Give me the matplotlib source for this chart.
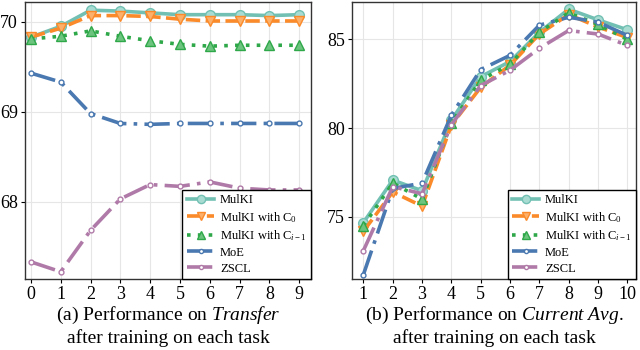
import matplotlib
matplotlib.use("Agg")
import matplotlib.pyplot as plt

plt.rcParams['font.family'] = 'Liberation Serif'
plt.rcParams['mathtext.fontset'] = 'custom'
plt.rcParams['mathtext.rm'] = 'Liberation Serif'
plt.rcParams['mathtext.it'] = 'Liberation Serif:italic'

# (a) Transfer
tasks_a = [0, 1, 2, 3, 4, 5, 6, 7, 8, 9]
mulki_a = [69.83, 69.95, 70.13, 70.12, 70.10, 70.08, 70.08, 70.08, 70.07, 70.08]
c0_a = [69.83, 69.93, 70.07, 70.07, 70.06, 70.03, 70.01, 70.01, 70.01, 70.01]
ci1_a = [69.81, 69.84, 69.90, 69.84, 69.79, 69.75, 69.73, 69.74, 69.74, 69.74]
moe_a = [69.43, 69.33, 68.98, 68.87, 68.86, 68.87, 68.87, 68.87, 68.87, 68.87]
zscl_a = [67.33, 67.22, 67.68, 68.03, 68.19, 68.17, 68.22, 68.15, 68.13, 68.13]

# (b) Current Avg.
tasks_b = [1, 2, 3, 4, 5, 6, 7, 8, 9, 10]
mulki_b = [74.68, 77.07, 76.47, 80.45, 82.9, 83.75, 85.4, 86.7, 86.1, 85.54]
c0_b = [74.19, 76.4, 75.6, 80.17, 82.3, 83.55, 85.3, 86.4, 85.7, 85.1]
ci1_b = [74.5, 76.9, 76.0, 80.3, 82.7, 83.6, 85.4, 86.5, 85.84, 85.0]
moe_b = [71.75, 76.6, 76.9, 80.73, 83.3, 84.1, 85.8, 86.25, 85.97, 85.22]
zscl_b = [73.1, 76.7, 76.3, 80.2, 82.4, 83.26, 84.5, 85.5, 85.3, 84.66]

labels = ['MulKI', 'MulKI with C$_0$', 'MulKI with C$_{i-1}$', 'MoE', 'ZSCL']
colors = ['#72c0b3', '#fa8a2a', '#2fa84a', '#4a78b0', '#b07aa8']
styles = [
    dict(linestyle='-', marker='o', markersize=7, markerfacecolor='#a8dcd2', lw=2.6),
    dict(linestyle=(0, (4, 1.5)), marker='v', markersize=7, markerfacecolor='#fcb06a', lw=2.6),
    dict(linestyle=(0, (1, 2)), marker='^', markersize=7, markerfacecolor='#6cc47e', lw=2.6),
    dict(linestyle=(0, (7, 2, 1, 2)), marker='o', markersize=3.5, markerfacecolor='white', lw=2.6),
    dict(linestyle=(0, (7, 2, 1, 2)), marker='o', markersize=3.5, markerfacecolor='white', lw=2.6),
]

fig = plt.figure(figsize=(6.4, 3.5), dpi=100)
ax1 = fig.add_axes([0.039, 0.203, 0.447, 0.791])
ax2 = fig.add_axes([0.55, 0.203, 0.444, 0.791])

series_a = [mulki_a, c0_a, ci1_a, moe_a, zscl_a]
series_b = [mulki_b, c0_b, ci1_b, moe_b, zscl_b]

for ax, xs, series in [(ax1, tasks_a, series_a), (ax2, tasks_b, series_b)]:
    for ys, lab, col, st in zip(series, labels, colors, styles):
        ax.plot(xs, ys, color=col, label=lab, markeredgecolor=col, **st)
    ax.set_xticks(xs)
    ax.grid(True, color='#e6e6e6', lw=0.8)
    ax.set_axisbelow(True)
    for sp in ax.spines.values():
        sp.set_color('#333333')
        sp.set_linewidth(1.0)
    ax.tick_params(labelsize=13, length=3, width=0.8, pad=2)
    ax.legend(loc='lower right', fontsize=9, frameon=True, fancybox=False,
              edgecolor='black', framealpha=1, borderpad=0.35, labelspacing=0.3,
              handlelength=2.2, handletextpad=0.45, borderaxespad=0, markerscale=0.85)

ax1.set_xlim(-0.2, 9.4)
ax1.set_ylim(67.14, 70.22)
ax1.set_yticks([68, 69, 70])
ax2.set_xlim(0.61, 10.3)
ax2.set_ylim(71.5, 87.1)
ax2.set_yticks([75, 80, 85])

fig.text(0.263, 0.098, '(a) Performance on $\\it{Transfer}$', ha='center', va='center', fontsize=14)
fig.text(0.263, 0.035, 'after training on each task', ha='center', va='center', fontsize=14)
fig.text(0.772, 0.098, '(b) Performance on $\\it{Current\\ Avg}$.', ha='center', va='center', fontsize=14)
fig.text(0.772, 0.035, 'after training on each task', ha='center', va='center', fontsize=14)

fig.savefig('out.png', dpi=100)
